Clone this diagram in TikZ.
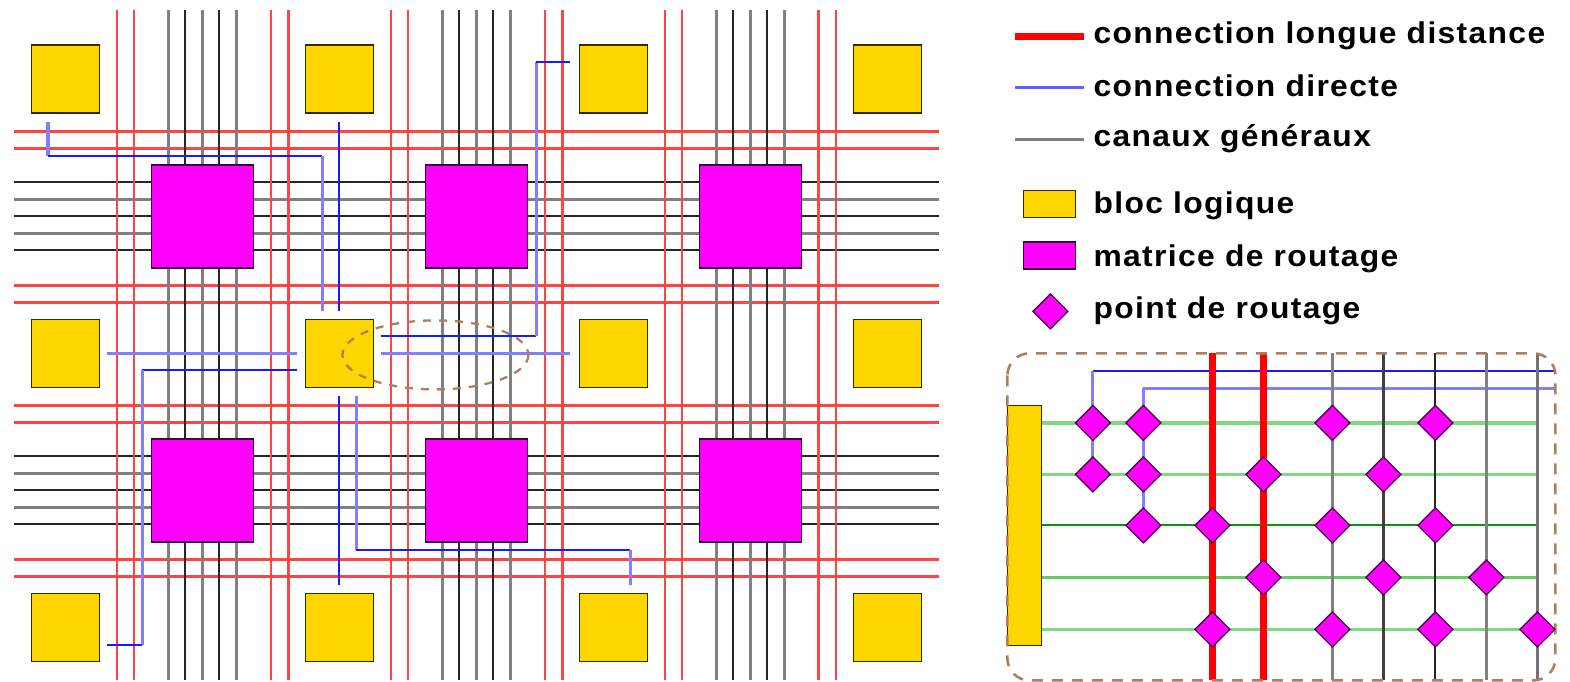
\documentclass[tikz,border=0pt]{standalone}
\usepackage{fontspec}
\setmainfont{Liberation Sans}[UprightFont=*-Bold,BoldFont=*-Bold,LetterSpace=4.5,FakeStretch=1.06]
\usetikzlibrary{shapes.geometric}
\definecolor{bloc}{HTML}{FFD500}
\definecolor{matr}{HTML}{FF00FF}
\definecolor{lred}{HTML}{FF4444}
\definecolor{lblue}{HTML}{8080FF}
\definecolor{dblue}{HTML}{1A1AFF}
\definecolor{lgreen}{HTML}{80D880}
\definecolor{dgreen}{HTML}{109010}
\definecolor{brownd}{HTML}{AD7F60}
\tikzset{
  x=1pt,y=-1pt,
  redline/.style={lred,line width=2.3pt},
  chgray/.style={gray,line width=3.3pt},
  chblack/.style={black!85,line width=2pt},
  bluethin/.style={dblue,line width=2pt},
  bluethick/.style={lblue,line width=3.3pt},
  bloclog/.style={draw=black!80!bloc,fill=bloc,line width=1.6pt,inner sep=0pt,minimum width=68pt,minimum height=68pt},
  matrice/.style={draw=black!80!matr,fill=matr,line width=1.6pt,inner sep=0pt,minimum width=102pt,minimum height=103pt},
  routept/.style={diamond,aspect=1,draw=black!70!matr,fill=matr,line width=1.3pt,inner sep=0pt,minimum width=35.5pt,minimum height=35.5pt},
  legendtxt/.style={anchor=west,inner sep=0pt,font=\fontsize{30}{30}\selectfont,text=black},
  brownbox/.style={brownd,line width=2.6pt,dash pattern=on 11pt off 9pt},
  brownell/.style={brownd,line width=2.3pt,dash pattern=on 8pt off 8pt},
}
\begin{document}
\begin{tikzpicture}
\useasboundingbox (-0.4,-0.4) rectangle (1569.6,681.6);
% main grid: horizontal channels
\foreach \y in {131,148,285,302,405,422,559,576}
  \draw[redline] (14,\y) -- (939,\y);
\foreach \o in {0,274}{
  \foreach \d in {182,216,250}
    \draw[chblack] (14,\d+\o) -- (939,\d+\o);
  \foreach \d in {199,233}
    \draw[chgray] (14,\d+\o) -- (939,\d+\o);
}
% main grid: vertical channels
\foreach \x in {116.5,133.5,270.5,288,390.5,407.5,544.5,562,664.5,681.5,818,835.5}
  \draw[redline] (\x,10) -- (\x,680);
\foreach \o in {0,274,548}{
  \foreach \d in {168,202,236}
    \draw[chgray] (\d+\o,10) -- (\d+\o,680);
  \foreach \d in {185,219}
    \draw[chblack] (\d+\o,10) -- (\d+\o,680);
}
% blocks
\foreach \i/\x in {1/65,2/339,3/613,4/887}
  \foreach \j/\y in {1/78.5,2/353,3/627}
    \node[bloclog] (b\i\j) at (\x,\y) {};
\foreach \i/\x in {1/202,2/476,3/750}
  \foreach \j/\y in {1/216,2/490}
    \node[matrice] (m\i\j) at (\x,\y) {};
% direct connections
\draw[bluethick] (47.5,122) -- (47.5,156);
\draw[bluethin] (47.5,156) -- (322,156);
\draw[bluethick] (322,156) -- (322,311);
\draw[bluethin] (339,122) -- (339,311);
\draw[bluethick] (107,353) -- (297,353);
\draw[bluethick] (381,353) -- (570,353);
\draw[bluethin] (297,370) -- (142,370);
\draw[bluethick] (142,370) -- (142,645);
\draw[bluethin] (142,645) -- (107,645);
\draw[bluethin] (381,336) -- (536,336);
\draw[bluethick] (536,336) -- (536,62);
\draw[bluethin] (536,62) -- (570,62);
\draw[bluethin] (339,396) -- (339,585);
\draw[bluethick] (356,396) -- (356,550);
\draw[bluethin] (356,550) -- (630,550);
\draw[bluethick] (630,550) -- (630,585);
\draw[brownell] (435,354.5) ellipse (93 and 34.5);
% legend
\draw[red,line width=7pt] (1015,36) -- (1084,36);
\draw[lblue!70!dblue,line width=2.4pt] (1015,87) -- (1084,87);
\draw[gray,line width=3.4pt] (1015,139) -- (1084,139);
\node[legendtxt] (t1) at (1093,35.5) {connection longue distance};
\node[legendtxt] (t2) at (1093,85.5) {connection directe};
\node[legendtxt] (t3) at (1093,138.5) {canaux généraux};
\node[bloclog,minimum width=52pt,minimum height=27pt] (l1) at (1049,203.5) {};
\node[matrice,minimum width=52pt,minimum height=27pt] (l2) at (1049,255) {};
\node[routept] (l3) at (1050,311) {};
\node[legendtxt] (t4) at (1093,205.5) {bloc logique};
\node[legendtxt] (t5) at (1093,258.5) {matrice de routage};
\node[legendtxt] (t6) at (1093,310.5) {point de routage};
% detail
\draw[lgreen,line width=3.4pt] (1041,422.5) -- (1537,422.5);
\draw[lgreen,line width=3.8pt] (1041,474) -- (1537,474);
\draw[dgreen,line width=2pt] (1041,525) -- (1537,525);
\draw[lgreen!80!dgreen,line width=2.8pt] (1041,577) -- (1537,577);
\draw[lgreen,line width=3.8pt] (1041,629) -- (1537,629);
\draw[bluethin] (1092.5,371) -- (1555,371);
\draw[bluethick] (1143,388) -- (1555,388);
\draw[bluethick,line width=3pt] (1092.5,371) -- (1092.5,474);
\draw[bluethick,line width=3pt] (1143,388) -- (1143,525);
\foreach \x in {1212,1263}
  \draw[red,line width=7pt] (\x,353) -- (\x,680);
\draw[chgray] (1332,353) -- (1332,680);
\draw[black!75,line width=2.4pt] (1383,353) -- (1383,680);
\draw[chblack] (1435,353) -- (1435,680);
\draw[gray,line width=3pt] (1486,353) -- (1486,680);
\draw[gray!90!black,line width=3pt] (1537,353) -- (1537,680);
\node[bloclog,minimum width=34pt,minimum height=240pt] (d0) at (1024,525) {};
\draw[brownbox,rounded corners=22pt] (1007,353) rectangle (1555,680);
\foreach \y/\xs in {422.5/{1092.5,1143,1332,1435},474/{1092.5,1143,1263,1383},525/{1143,1212,1332,1435},577/{1263,1383,1486},629/{1212,1332,1435,1537}}
  \foreach \x in \xs
    \node[routept] at (\x,\y) {};
\end{tikzpicture}
\end{document}
